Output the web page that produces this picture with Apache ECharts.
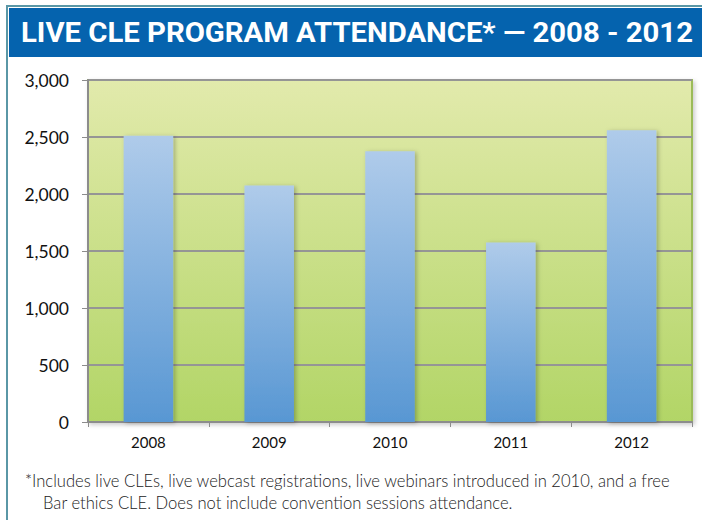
<!DOCTYPE html>
<html><head><meta charset="utf-8">
<script src="https://cdn.jsdelivr.net/npm/echarts@6/dist/echarts.min.js"></script>
<style>html,body{margin:0;padding:0;background:#fff}#c{width:702px;height:520px}</style>
</head><body><div id="c"></div>
<script>
const categories = ['2008', '2009', '2010', '2011', '2012'];
const attendance = [2510, 2075, 2375, 1575, 2560];
const yTicks = [0, 500, 1000, 1500, 2000, 2500, 3000];
const titleText = 'LIVE CLE PROGRAM ATTENDANCE* \u2014 2008 - 2012';
const footnoteLine1 = '*Includes live CLEs, live webcast registrations, live webinars introduced in 2010, and a free';
const footnoteLine2 = 'Bar ethics CLE. Does not include convention sessions attendance.';

const titleFont = 'bold 28px Roboto';
const ctx = document.createElement('canvas').getContext('2d');
ctx.font = titleFont;
const titleScale = 672 / ctx.measureText(titleText).width;

const chart = echarts.init(document.getElementById('c'), null, {renderer: 'svg'});
chart.setOption({
  animation: false,
  graphic: [
    {type: 'rect', shape: {x: 6, y: 5, width: 700, height: 2}, style: {fill: '#5a97a6'}},
    {type: 'rect', shape: {x: 6, y: 5, width: 2, height: 520}, style: {fill: '#5a97a6'}},
    {type: 'rect', shape: {x: 9, y: 8, width: 693, height: 49}, style: {fill: '#0563ae'}},
    {type: 'text', x: 21, y: 32, scaleX: titleScale,
      style: {text: titleText, fill: '#fff', font: titleFont, textVerticalAlign: 'middle', verticalAlign: 'middle'}},
    {type: 'text', x: 25, y: 481, style: {text: footnoteLine1, fill: '#222', font: '300 16.6px Lato', verticalAlign: 'middle', textVerticalAlign: 'middle'}},
    {type: 'text', x: 43, y: 503, style: {text: footnoteLine2, fill: '#222', font: '300 16.6px Lato', verticalAlign: 'middle', textVerticalAlign: 'middle'}}
  ],
  grid: {
    left: 88, right: 10, top: 80, bottom: 98, show: true,
    backgroundColor: {type: 'linear', x: 0, y: 0, x2: 0, y2: 1, colorStops: [
      {offset: 0, color: '#e2eaac'}, {offset: 1, color: '#b2d566'}]},
    borderColor: '#9bbb59', borderWidth: 2,
    shadowColor: 'rgba(0,0,0,0.2)', shadowBlur: 4, shadowOffsetX: 2, shadowOffsetY: 2
  },
  xAxis: {
    type: 'category', data: categories,
    axisLine: {lineStyle: {color: '#8c8c8c', width: 2}},
    axisTick: {show: true, length: 5, lineStyle: {color: '#8c8c8c', width: 1}},
    axisLabel: {color: '#111', fontFamily: 'Lato', fontSize: 15, margin: 12}
  },
  yAxis: {
    type: 'value', min: yTicks[0], max: yTicks[yTicks.length - 1], interval: yTicks[1] - yTicks[0],
    axisLine: {show: true, lineStyle: {color: '#8c8c8c', width: 2}},
    axisTick: {show: true, length: 6, lineStyle: {color: '#8c8c8c'}},
    splitLine: {lineStyle: {color: '#959595', width: 2}},
    axisLabel: {color: '#111', fontFamily: 'Lato', fontSize: 17.5, margin: 19,
      formatter: v => v.toLocaleString('en-US')}
  },
  series: [{
    type: 'bar', data: attendance, barWidth: '41%',
    itemStyle: {
      color: {type: 'linear', x: 0, y: 0, x2: 0, y2: 1, colorStops: [
        {offset: 0, color: '#afcbea'}, {offset: 1, color: '#5897d3'}]},
      shadowColor: 'rgba(0,0,0,0.25)', shadowBlur: 4, shadowOffsetX: 2, shadowOffsetY: 1
    }
  }]
});
</script></body></html>
